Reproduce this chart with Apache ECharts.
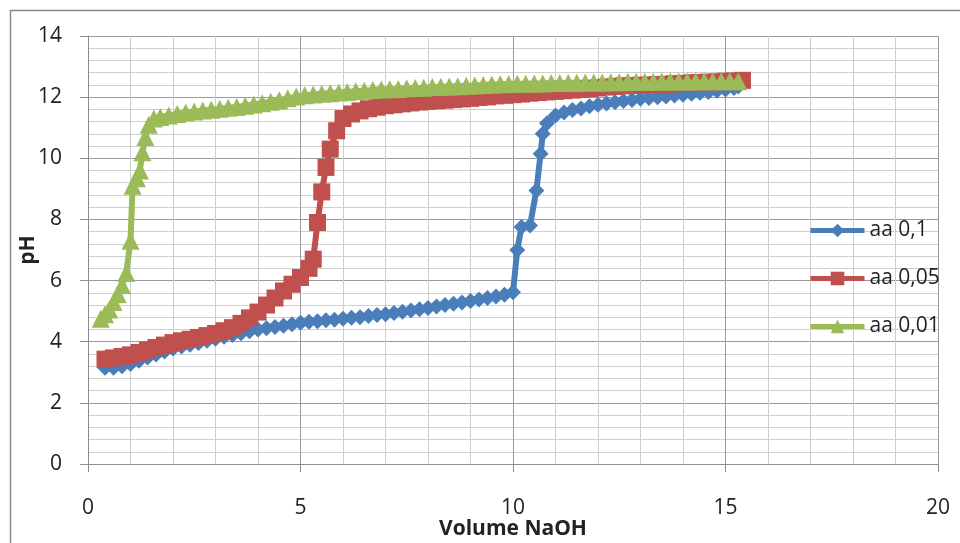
<!DOCTYPE html>
<html>
<head>
<meta charset="utf-8">
<script src="https://cdn.jsdelivr.net/npm/echarts@6/dist/echarts.min.js"></script>
<style>
html,body{margin:0;padding:0;background:#fff;}
#chart{width:960px;height:543px;}
</style>
</head>
<body>
<div id="chart"></div>
<script>
// aa 0,1
var volA = [0.4,0.6,0.8,1.0,1.2,1.4,1.6,1.8,2.0,2.2,2.4,2.6,2.8,3.0,3.2,3.4,3.6,3.8,4.0,4.2,4.4,4.6,4.8,5.0,5.2,5.4,5.6,5.8,6.0,6.2,6.4,6.6,6.8,7.0,7.2,7.4,7.6,7.8,8.0,8.2,8.4,8.6,8.8,9.0,9.2,9.4,9.6,9.8,10.0,10.1,10.2,10.4,10.55,10.65,10.7,10.8,11.0,11.2,11.4,11.6,11.8,12.0,12.2,12.4,12.6,12.8,13.0,13.2,13.4,13.6,13.8,14.0,14.2,14.4,14.6,14.8,15.0,15.2,15.3];
var phA  = [3.15,3.15,3.2,3.27,3.38,3.48,3.58,3.68,3.78,3.84,3.9,3.96,4.03,4.1,4.16,4.22,4.28,4.34,4.4,4.44,4.48,4.52,4.57,4.62,4.65,4.67,4.7,4.72,4.75,4.78,4.8,4.84,4.87,4.9,4.94,4.98,5.02,5.06,5.1,5.15,5.2,5.24,5.28,5.33,5.38,5.43,5.48,5.54,5.62,7.0,7.75,7.8,8.95,10.15,10.8,11.15,11.4,11.5,11.58,11.63,11.7,11.75,11.79,11.83,11.87,11.91,11.95,11.97,12.0,12.02,12.05,12.08,12.11,12.14,12.17,12.21,12.25,12.3,12.35];
// aa 0,05
var volB = [0.4,0.6,0.8,1.0,1.2,1.4,1.6,1.8,2.0,2.2,2.4,2.6,2.8,3.0,3.2,3.4,3.6,3.8,4.0,4.2,4.4,4.6,4.8,5.0,5.2,5.3,5.4,5.5,5.6,5.7,5.85,6.0,6.2,6.4,6.6,6.8,7.0,7.2,7.4,7.6,7.8,8.0,8.2,8.4,8.6,8.8,9.0,9.2,9.4,9.6,9.8,10.0,10.2,10.4,10.6,10.8,11.0,11.2,11.4,11.6,11.8,12.0,12.2,12.4,12.6,12.8,13.0,13.2,13.4,13.6,13.8,14.0,14.2,14.4,14.6,14.8,15.0,15.2,15.4];
var phB  = [3.43,3.47,3.52,3.57,3.65,3.73,3.81,3.89,3.97,4.03,4.08,4.14,4.2,4.27,4.36,4.46,4.6,4.78,4.97,5.2,5.43,5.66,5.88,6.1,6.4,6.7,7.9,8.9,9.7,10.3,10.9,11.3,11.45,11.55,11.62,11.67,11.72,11.75,11.78,11.81,11.84,11.86,11.88,11.9,11.92,11.94,11.96,11.99,12.01,12.04,12.06,12.08,12.1,12.13,12.15,12.17,12.19,12.21,12.23,12.25,12.28,12.3,12.33,12.35,12.37,12.38,12.39,12.4,12.41,12.42,12.44,12.45,12.47,12.48,12.49,12.5,12.52,12.53,12.55];
// aa 0,01
var volC = [0.3,0.4,0.5,0.6,0.7,0.8,0.9,1.0,1.05,1.15,1.22,1.28,1.35,1.43,1.55,1.7,1.9,2.1,2.3,2.5,2.7,2.9,3.1,3.3,3.5,3.7,3.9,4.1,4.3,4.5,4.7,4.9,5.1,5.3,5.5,5.7,5.9,6.1,6.3,6.5,6.7,6.9,7.1,7.3,7.5,7.7,7.9,8.1,8.3,8.5,8.7,8.9,9.1,9.3,9.5,9.7,9.9,10.1,10.3,10.5,10.7,10.9,11.1,11.3,11.5,11.7,11.9,12.1,12.3,12.5,12.7,12.9,13.1,13.3,13.5,13.7,13.9,14.1,14.3,14.5,14.7,14.9,15.1,15.3];
var phC  = [4.75,4.9,5.05,5.3,5.55,5.85,6.25,7.3,9.1,9.35,9.6,10.2,10.7,11.1,11.3,11.35,11.4,11.45,11.5,11.53,11.56,11.59,11.62,11.65,11.68,11.72,11.76,11.8,11.85,11.9,11.96,12.02,12.06,12.09,12.11,12.13,12.15,12.17,12.19,12.21,12.23,12.25,12.26,12.27,12.29,12.3,12.31,12.33,12.34,12.35,12.36,12.37,12.38,12.4,12.41,12.42,12.43,12.44,12.44,12.45,12.45,12.46,12.46,12.47,12.47,12.48,12.48,12.48,12.49,12.49,12.5,12.5,12.5,12.5,12.51,12.51,12.51,12.51,12.52,12.52,12.52,12.52,12.52,12.52];

var seriesNames = ['aa 0,1','aa 0,05','aa 0,01'];
var xTitle = 'Volume NaOH';
var yTitle = 'pH';

function pairs(xs, ys){ var out=[]; for(var i=0;i<xs.length;i++){ out.push([xs[i], ys[i]]); } return out; }

var FONT = '"Open Sans", "Noto Sans", sans-serif';
var COLORS = ['#4a7ebb', '#c0504d', '#9bbb59'];
var chart = echarts.init(document.getElementById('chart'), null, {renderer:'canvas'});
chart.setOption({
  animation: false,
  backgroundColor: '#ffffff',
  graphic: [{
    type: 'rect', left: 8, top: 8, z: -10,
    shape: {width: 960, height: 560},
    style: {fill: 'none', stroke: '#8a8a8a', lineWidth: 1.5}
  }],
  grid: {left: 88, right: 22, top: 36, bottom: 79, containLabel: false, outerBoundsMode: 'none'},
  legend: {
    orient: 'vertical', left: 808, top: 220, padding: 0,
    itemWidth: 54, itemHeight: 17, itemGap: 27,
    textStyle: {fontFamily: FONT, fontSize: 21, color: '#222'},
    data: seriesNames.map(function(n, i){ return {name: n, lineStyle: {width: 5, color: COLORS[i]}}; })
  },
  xAxis: {
    type: 'value', min: 0, max: 20, interval: 5,
    name: xTitle, nameLocation: 'middle', nameGap: 55, nameMoveOverlap: false,
    nameTextStyle: {fontFamily: FONT, fontSize: 21, fontWeight: 'bold', color: '#222'},
    axisLine: {show: true, lineStyle: {color: '#8c8c8c', width: 1}},
    axisTick: {show: true, length: 8, lineStyle: {color: '#8c8c8c'}},
    axisLabel: {margin: 34, fontFamily: FONT, fontSize: 21, color: '#222'},
    splitLine: {show: true, lineStyle: {color: '#9a9a9a', width: 1}},
    minorTick: {show: false, splitNumber: 5},
    minorSplitLine: {show: true, lineStyle: {color: '#cfcfcf', width: 1}}
  },
  yAxis: {
    type: 'value', min: 0, max: 14, interval: 2,
    name: yTitle, nameLocation: 'middle', nameGap: 49, nameRotate: 90, nameMoveOverlap: false,
    nameTextStyle: {fontFamily: FONT, fontSize: 21, fontWeight: 'bold', color: '#222'},
    axisLine: {show: true, lineStyle: {color: '#8c8c8c', width: 1}},
    axisTick: {show: true, length: 8, lineStyle: {color: '#8c8c8c'}},
    axisLabel: {margin: 26, fontFamily: FONT, fontSize: 21, color: '#222'},
    splitLine: {show: true, lineStyle: {color: '#9a9a9a', width: 1}},
    minorTick: {show: false, splitNumber: 5},
    minorSplitLine: {show: true, lineStyle: {color: '#cfcfcf', width: 1}}
  },
  series: [
    {name: seriesNames[0], type: 'line', data: pairs(volA, phA),
     symbol: 'diamond', symbolSize: 16, showSymbol: true,
     itemStyle: {color: COLORS[0]}, lineStyle: {color: COLORS[0], width: 6}},
    {name: seriesNames[1], type: 'line', data: pairs(volB, phB),
     symbol: 'rect', symbolSize: 17, showSymbol: true,
     itemStyle: {color: COLORS[1]}, lineStyle: {color: COLORS[1], width: 6}},
    {name: seriesNames[2], type: 'line', data: pairs(volC, phC),
     symbol: 'triangle', symbolSize: 18, showSymbol: true,
     itemStyle: {color: COLORS[2]}, lineStyle: {color: COLORS[2], width: 6}}
  ]
});
</script>
</body>
</html>
